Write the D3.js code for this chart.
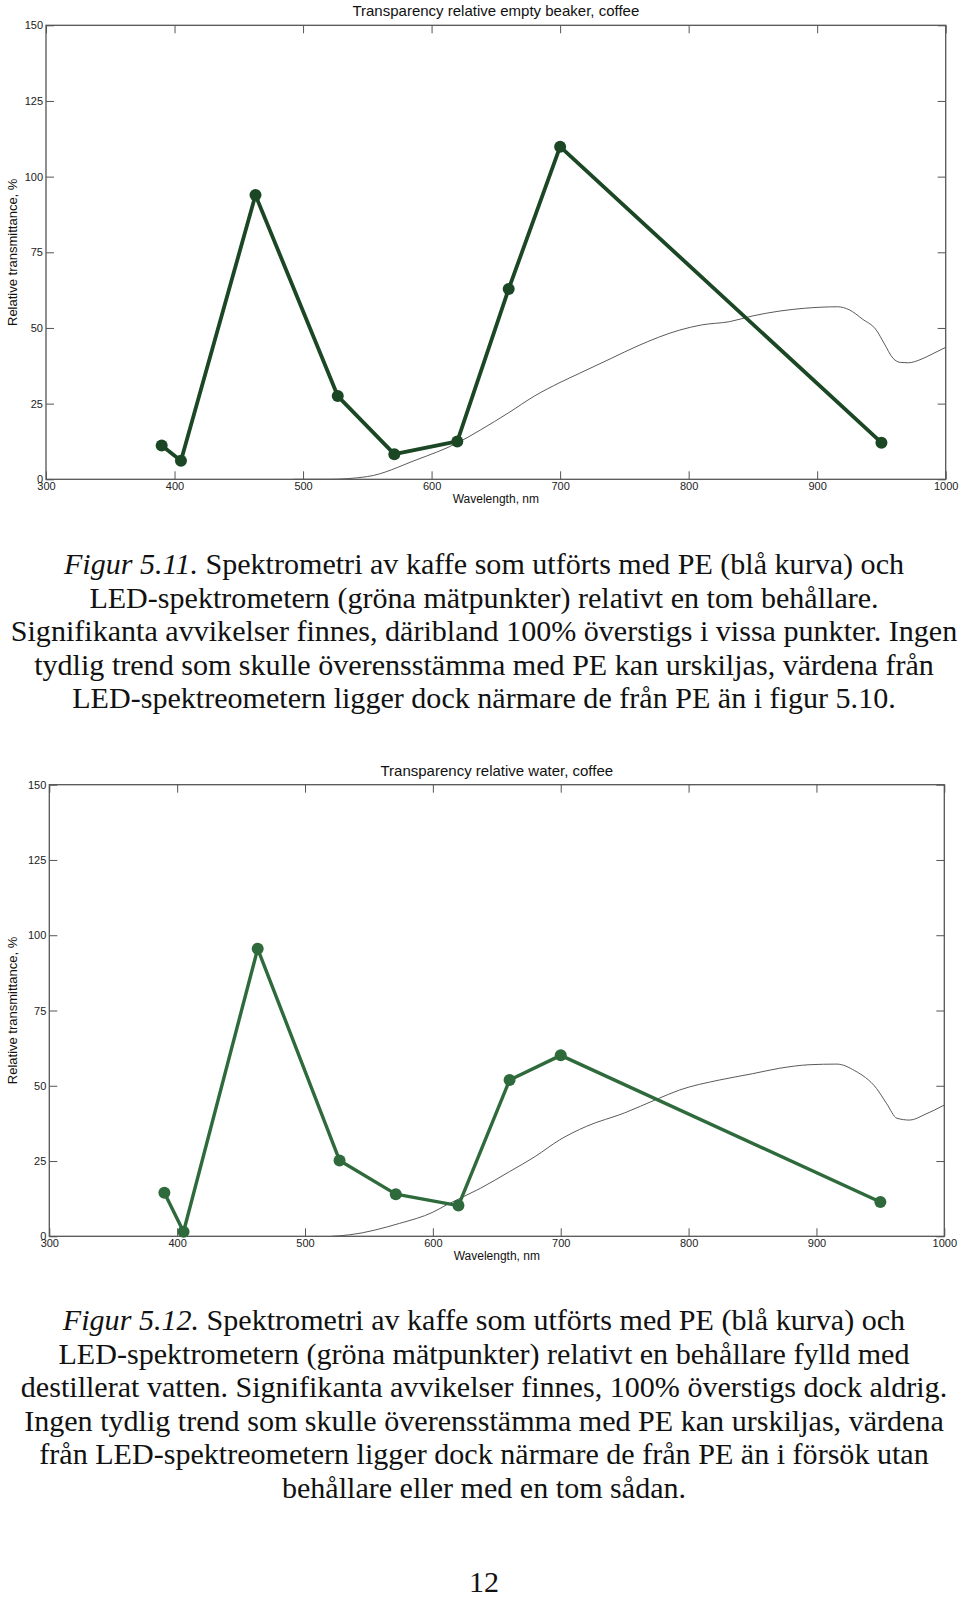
<!DOCTYPE html>
<html>
<head>
<meta charset="utf-8">
<script src="https://cdn.jsdelivr.net/npm/d3@7"></script>
<style>
  body { margin: 0; background: #fff; }
  svg { display: block; }
</style>
</head>
<body>
<div id="page"></div>
<script>
// LED measurement points (nm) and relative transmittance (%)
const ledNm = [390, 405, 463, 527, 571, 620, 660, 700, 950];
const beakerPct = [11.2, 6.1, 93.9, 27.5, 8.3, 12.5, 62.9, 109.9, 12.1];
const waterPct = [14.5, 1.5, 95.5, 25.2, 14.0, 10.2, 51.9, 60.1, 11.4];

// PE reference spectrum
const peBeakerNm = [492, 520, 550, 588, 620, 638, 660, 680, 700, 715, 740, 760, 793, 810, 832, 850, 871, 890, 916, 925, 935, 946, 952, 959, 965, 971, 980, 990, 1000];
const peBeakerPct = [0, 0, 0.9, 6.4, 12, 16.3, 22, 27.5, 32, 35, 40, 44, 49.3, 51, 52.1, 54, 55.6, 56.5, 57, 56, 53, 49.3, 45, 40, 38.6, 38.5, 39.5, 41.5, 43.6];
const peWaterNm = [521, 535, 574, 600, 611, 637, 660, 680, 699, 720, 750, 775, 793, 824, 850, 871, 895, 916, 930, 947, 955, 963, 973, 985, 1000];
const peWaterPct = [0, 0.5, 4.3, 8, 10.5, 15.9, 21.5, 26.5, 32, 36.5, 41, 45.5, 48.6, 51.9, 54, 55.8, 57, 57.2, 55, 49.1, 44, 39.2, 38.6, 40.5, 43.6];

const xTicks = [300, 400, 500, 600, 700, 800, 900, 1000];
const yTicks = [0, 25, 50, 75, 100, 125, 150];

const caption1 = [
  ["Figur 5.11.", " Spektrometri av kaffe som utförts med PE (blå kurva) och"],
  ["", "LED-spektrometern (gröna mätpunkter) relativt en tom behållare."],
  ["", "Signifikanta avvikelser finnes, däribland 100% överstigs i vissa punkter. Ingen"],
  ["", "tydlig trend som skulle överensstämma med PE kan urskiljas, värdena från"],
  ["", "LED-spektreometern ligger dock närmare de från PE än i figur 5.10."]
];
const caption2 = [
  ["Figur 5.12.", " Spektrometri av kaffe som utförts med PE (blå kurva) och"],
  ["", "LED-spektrometern (gröna mätpunkter) relativt en behållare fylld med"],
  ["", "destillerat vatten. Signifikanta avvikelser finnes, 100% överstigs dock aldrig."],
  ["", "Ingen tydlig trend som skulle överensstämma med PE kan urskiljas, värdena"],
  ["", "från LED-spektreometern ligger dock närmare de från PE än i försök utan"],
  ["", "behållare eller med en tom sådan."]
];

const W = 960, H = 1598;
const svg = d3.select("#page").append("svg")
  .attr("width", W)
  .attr("height", H);

function drawPanel(p) {
  let g = svg.append("g");
  let x = d3.scaleLinear().domain([300, 1000]).range([p.left, p.right]);
  let y = d3.scaleLinear().domain([0, 150]).range([p.bottom, p.top]);

  // frame
  g.append("rect")
    .attr("x", p.left).attr("y", p.top)
    .attr("width", p.right - p.left).attr("height", p.bottom - p.top)
    .attr("fill", "#fff").attr("stroke", "#555").attr("stroke-width", 1.3);

  // axes, ticks pointing inwards
  let styleAxis = function(sel) {
    sel.select(".domain").remove();
    sel.selectAll("line").attr("stroke", "#555").attr("stroke-width", 1);
    sel.selectAll("text").attr("fill", "#222")
      .style("font-family", "Liberation Sans, Arial, sans-serif")
      .style("font-size", "11px");
  };
  g.append("g").attr("transform", "translate(0," + p.bottom + ")")
    .call(d3.axisBottom(x).tickValues(xTicks).tickFormat(d3.format("d")).tickSizeInner(-8).tickSizeOuter(0).tickPadding(3))
    .call(styleAxis);
  g.append("g").attr("transform", "translate(0," + p.top + ")")
    .call(d3.axisTop(x).tickValues(xTicks).tickSizeInner(-8).tickSizeOuter(0).tickFormat(""))
    .call(styleAxis);
  g.append("g").attr("transform", "translate(" + p.left + ",0)")
    .call(d3.axisLeft(y).tickValues(yTicks).tickSizeInner(-8).tickSizeOuter(0).tickPadding(3))
    .call(styleAxis);
  g.append("g").attr("transform", "translate(" + p.right + ",0)")
    .call(d3.axisRight(y).tickValues(yTicks).tickSizeInner(-8).tickSizeOuter(0).tickFormat(""))
    .call(styleAxis);

  // PE curve
  let pe = p.peNm.map(function(d, i) { return [d, p.pePct[i]]; });
  g.append("path")
    .datum(pe)
    .attr("d", d3.line()
      .x(function(d) { return x(d[0]); })
      .y(function(d) { return y(d[1]); })
      .curve(d3.curveMonotoneX))
    .attr("fill", "none")
    .attr("stroke", "#5a5a5a")
    .attr("stroke-width", 1);

  // LED points
  let led = ledNm.map(function(d, i) { return [d, p.ledPct[i]]; });
  g.append("path")
    .datum(led)
    .attr("d", d3.line()
      .x(function(d) { return x(d[0]); })
      .y(function(d) { return y(d[1]); }))
    .attr("fill", "none")
    .attr("stroke", p.green)
    .attr("stroke-width", p.lineWidth)
    .attr("stroke-linejoin", "round");
  g.selectAll(".dot")
    .data(led)
    .enter()
    .append("circle")
    .attr("cx", function(d) { return x(d[0]); })
    .attr("cy", function(d) { return y(d[1]); })
    .attr("r", 6)
    .attr("fill", p.green);

  // texts
  g.append("text")
    .text(p.title)
    .attr("x", (p.left + p.right) / 2).attr("y", p.titleY)
    .attr("text-anchor", "middle")
    .attr("fill", "#111")
    .style("font-family", "Liberation Sans, Arial, sans-serif")
    .style("font-size", "15px");
  g.append("text")
    .text("Wavelength, nm")
    .attr("x", (p.left + p.right) / 2).attr("y", p.bottom + 24)
    .attr("text-anchor", "middle")
    .attr("fill", "#111")
    .style("font-family", "Liberation Sans, Arial, sans-serif")
    .style("font-size", "12px");
  g.append("text")
    .text("Relative transmittance, %")
    .attr("transform", "translate(17," + ((p.top + p.bottom) / 2) + ")rotate(-90)")
    .attr("text-anchor", "middle")
    .attr("fill", "#111")
    .style("font-family", "Liberation Sans, Arial, sans-serif")
    .style("font-size", "13px");
}

drawPanel({
  left: 46, right: 945.7, top: 25.3, bottom: 479.3, titleY: 16,
  title: "Transparency relative empty beaker, coffee",
  ledPct: beakerPct, peNm: peBeakerNm, pePct: peBeakerPct,
  green: "#1b4724", lineWidth: 3.8
});
drawPanel({
  left: 49.3, right: 944.3, top: 784.7, bottom: 1236.3, titleY: 776,
  title: "Transparency relative water, coffee",
  ledPct: waterPct, peNm: peWaterNm, pePct: peWaterPct,
  green: "#2e6a3b", lineWidth: 3.4
});

// captions, serif, font size fitted to the widest line
const serif = "Liberation Serif, Times New Roman, serif";
let probe = svg.append("text").text(caption1[2][1])
  .style("font-family", serif).style("font-size", "24px");
let fontSize = 24 * 947 / probe.node().getComputedTextLength();
probe.remove();

function drawCaption(lines, y0) {
  lines.forEach(function(l, i) {
    let t = svg.append("text")
      .attr("x", 484).attr("y", y0 + i * 33.5)
      .attr("text-anchor", "middle")
      .attr("fill", "#111")
      .style("font-family", serif)
      .style("font-size", fontSize + "px");
    if (l[0]) t.append("tspan").style("font-style", "italic").text(l[0]);
    t.append("tspan").text(l[1]);
  });
}
drawCaption(caption1, 574);
drawCaption(caption2, 1330);

svg.append("text")
  .text("12")
  .attr("x", 484).attr("y", 1592)
  .attr("text-anchor", "middle")
  .attr("fill", "#111")
  .style("font-family", serif)
  .style("font-size", fontSize + "px");
</script>
</body>
</html>
